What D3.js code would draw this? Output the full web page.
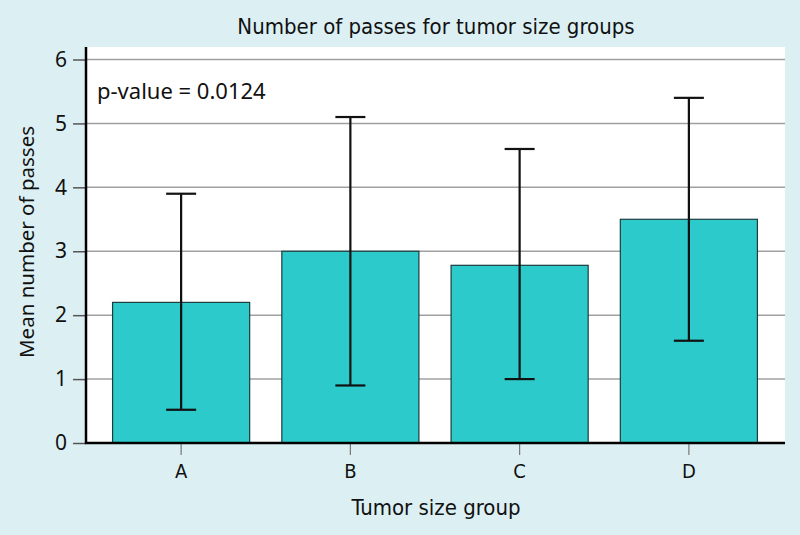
<!DOCTYPE html>
<html><head><meta charset="utf-8">
<script src="https://cdn.jsdelivr.net/npm/d3@7"></script>
<style>body{margin:0;background:#dcf0f4;} svg{display:block;}</style>
</head><body>
<svg id="c" width="800" height="535"></svg>
<script>
const categories = ["A","B","C","D"];
const means = [2.2, 3.0, 2.78, 3.5];
const lower = [0.52, 0.9, 1.0, 1.6];
const upper = [3.9, 5.1, 4.6, 5.4];
const yTicks = [0,1,2,3,4,5,6];
const title = "Number of passes for tumor size groups";
const xTitle = "Tumor size group";
const yTitle = "Mean number of passes";
const note = "p-value = 0.0124";

const svg = d3.select("#c");
const W = 800, H = 535;
const condensed = "'DejaVu Sans Condensed', 'Liberation Sans Narrow', sans-serif";
svg.append("rect").attr("width",W).attr("height",H).attr("fill","#dcf0f4");
const plot = {l:86, r:785, t:47, b:443};
const y = d3.scaleLinear().domain([0,6]).range([443,59.5]);
const x = d3.scaleBand().domain(categories).range([96.5,773.5]).paddingInner(0.19).paddingOuter(0.095);

svg.append("rect").attr("x",plot.l).attr("y",plot.t).attr("width",plot.r-plot.l).attr("height",plot.b-plot.t).attr("fill","#fff");

// gridlines
svg.append("g").selectAll("line").data(yTicks.filter(d=>d>0)).join("line")
  .attr("x1",plot.l).attr("x2",plot.r).attr("y1",d=>y(d)).attr("y2",d=>y(d))
  .attr("stroke","#a0a0a0").attr("stroke-width",1.5);

// bars
svg.append("g").selectAll("rect").data(categories).join("rect")
  .attr("x",d=>x(d)).attr("width",x.bandwidth())
  .attr("y",(d,i)=>y(means[i])).attr("height",(d,i)=>y(0)-y(means[i]))
  .attr("fill","#2ccaca").attr("stroke","#1d3d3d").attr("stroke-width",1.2);

// error bars
const eb = svg.append("g").attr("stroke","#111").attr("stroke-width",2.2);
categories.forEach((c,i)=>{
  const cx = x(c)+x.bandwidth()/2;
  eb.append("line").attr("x1",cx).attr("x2",cx).attr("y1",y(lower[i])).attr("y2",y(upper[i]));
  eb.append("line").attr("x1",cx-15).attr("x2",cx+15).attr("y1",y(upper[i])).attr("y2",y(upper[i]));
  eb.append("line").attr("x1",cx-15).attr("x2",cx+15).attr("y1",y(lower[i])).attr("y2",y(lower[i]));
});

// y axis
const ya = svg.append("g").attr("transform",`translate(${plot.l},0)`)
  .call(d3.axisLeft(y).tickValues(yTicks).tickSize(13).tickPadding(6).tickFormat(d3.format("d")));
ya.select(".domain").remove();
ya.selectAll(".tick line").attr("stroke","#555").attr("stroke-width",1.5);
ya.selectAll(".tick text").attr("font-family","'Noto Sans'").attr("font-size",21).attr("fill","#111");

// x axis
const xa = svg.append("g").attr("transform",`translate(0,${plot.b})`)
  .call(d3.axisBottom(x).tickSize(12).tickPadding(9));
xa.select(".domain").remove();
xa.selectAll(".tick line").attr("stroke","#777").attr("stroke-width",1.2);
xa.selectAll(".tick text").attr("font-family",condensed).attr("font-size",20).attr("fill","#111");

// axis lines
svg.append("line").attr("x1",plot.l).attr("x2",plot.l).attr("y1",plot.t).attr("y2",plot.b+1).attr("stroke","#000").attr("stroke-width",2.5);
svg.append("line").attr("x1",plot.l-1).attr("x2",plot.r).attr("y1",plot.b).attr("y2",plot.b).attr("stroke","#000").attr("stroke-width",2.5);

// texts
svg.append("text").attr("x",436).attr("y",34).attr("text-anchor","middle")
  .attr("font-family",condensed).attr("font-size",22).attr("fill","#111").text(title);
svg.append("text").attr("x",436).attr("y",515).attr("text-anchor","middle")
  .attr("font-family",condensed).attr("font-size",22).attr("fill","#111").text(xTitle);
svg.append("text").attr("transform","translate(34,242) rotate(-90)").attr("text-anchor","middle")
  .attr("font-family","'Noto Sans'").attr("font-size",20.5).attr("fill","#111").text(yTitle);
svg.append("text").attr("x",97).attr("y",99)
  .attr("font-family","'Noto Sans'").attr("font-size",22).attr("fill","#111").text(note);
</script>
</body></html>
